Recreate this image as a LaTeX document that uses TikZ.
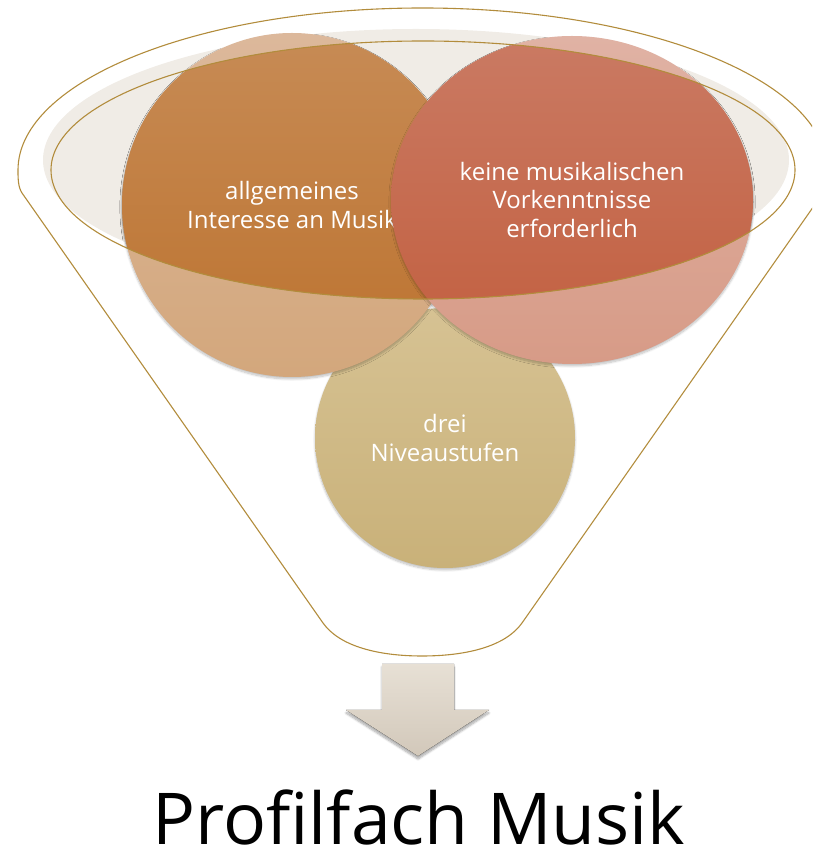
\documentclass[tikz,border=0pt]{standalone}
\usepackage{fontspec}
\setmainfont{Open Sans}
\usetikzlibrary{shapes.geometric,shadows.blur}
\definecolor{funnelgold}{HTML}{B28C3C}
\definecolor{glasfill}{HTML}{F0ECE6}
\definecolor{orangetop}{HTML}{DCB89B}
\definecolor{orangebot}{HTML}{D3A77C}
\definecolor{orangedarktop}{HTML}{C78B55}
\definecolor{orangedarkbot}{HTML}{BC722E}
\definecolor{rosetop}{HTML}{E0B2A4}
\definecolor{rosebot}{HTML}{D79B87}
\definecolor{rosedarktop}{HTML}{CA7A63}
\definecolor{rosedarkbot}{HTML}{C25E3E}
\definecolor{sandtop}{HTML}{D6C293}
\definecolor{sandbot}{HTML}{C9B179}
\definecolor{arrowtop}{HTML}{E7E0D5}
\definecolor{arrowbot}{HTML}{D2C8BA}

\begin{document}
\begin{tikzpicture}[x=1pt,y=1pt]
	\tikzstyle{rim}=[draw=funnelgold,line width=1.1pt]
	\tikzstyle{bubble}=[ellipse,inner sep=0pt,text=white,align=center,font=\fontsize{24}{28.8}\selectfont,blur shadow={shadow xshift=0pt,shadow yshift=-2pt,shadow blur steps=8,shadow opacity=25}]
	\tikzstyle{lefty}=[bubble,minimum width=340pt,minimum height=344pt]
	\tikzstyle{righty}=[bubble,minimum width=362pt,minimum height=328pt]
	\useasboundingbox (0,0) rectangle (812,852);
	\clip (0,0) rectangle (812,852);
	\fill [glasfill] (416,692) ellipse [x radius=373,y radius=131];
	\node (niveau) at (445,414) [bubble,minimum size=260pt,top color=sandtop,bottom color=sandbot] {drei\\Niveaustufen};
	\node (interesse) at (292,647) [lefty,top color=orangetop,bottom color=orangebot] {};
	\node (vorkenntnis) at (572,652) [righty,top color=rosetop,bottom color=rosebot] {};
	\begin{scope}
		\clip (423,682) ellipse [x radius=372,y radius=129];
		\node (interessekern) at (interesse.center) [lefty,top color=orangedarktop,bottom color=orangedarkbot] {allgemeines\\Interesse an Musik};
		\node (vorkenntniskern) at (vorkenntnis.center) [righty,top color=rosedarktop,bottom color=rosedarkbot] {keine musikalischen\\Vorkenntnisse\\erforderlich};
	\end{scope}
	\draw [rim] (423,682) ellipse [x radius=372,y radius=129];
	\draw [rim] (22,659) -- (323,229) .. controls (340,205) and (380,196) .. (422,196)
		.. controls (465,196) and (505,205) .. (522,229) -- (823,659)
		.. controls (827,665) and (827,674) .. (827,682)
		arc [start angle=0,end angle=180,x radius=404.5,y radius=162]
		.. controls (18,674) and (18,665) .. (22,659) -- cycle;
	\fill [top color=arrowtop,bottom color=arrowbot,blur shadow={shadow xshift=0pt,shadow yshift=-3pt,shadow blur steps=8,shadow opacity=35}]
		(382,188) -- (454,188) -- (454,142) -- (489,142) -- (418,96) -- (346,142) -- (382,142) -- cycle;
	\node (profil) at (419,8) [anchor=base,inner sep=0pt,font=\fontsize{71.5}{80}\selectfont] {Profilfach Musik};
\end{tikzpicture}
\end{document}
